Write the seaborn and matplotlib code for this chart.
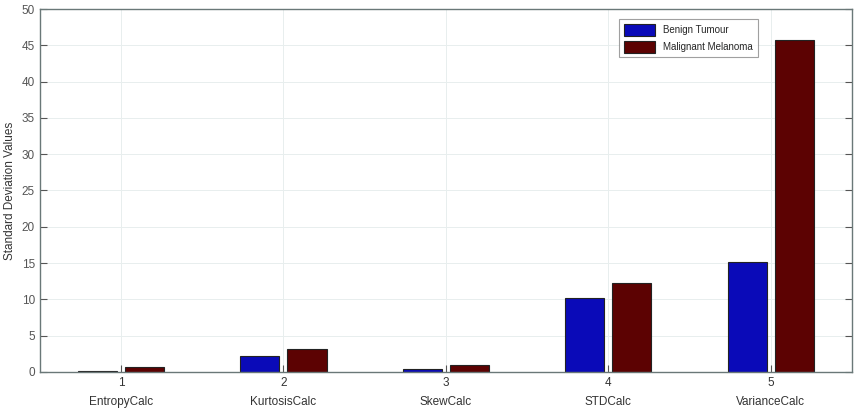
import pandas as pd
import seaborn as sns
import matplotlib.pyplot as plt

# Feature names and their index labels on the x axis
features = ["EntropyCalc", "KurtosisCalc", "SkewCalc", "STDCalc", "VarianceCalc"]
tick_labels = ["1\nEntropyCalc", "2\nKurtosisCalc", "3\nSkewCalc", "4\nSTDCalc", "5\nVarianceCalc"]

# Standard deviation values
benign = [0.1, 2.2, 0.4, 10.2, 15.1]
malignant = [0.6, 3.1, 0.9, 12.2, 45.7]

df = pd.DataFrame({
    "feature": features * 2,
    "value": benign + malignant,
    "group": ["Benign Tumour"] * 5 + ["Malignant Melanoma"] * 5,
})

sns.set_style("white")
plt.rcParams["font.family"] = ["Liberation Sans", "DejaVu Sans"]

fig = plt.figure(figsize=(8.65, 4.15), dpi=100)
ax = fig.add_axes([0.046, 0.104, 0.939, 0.874])

palette = {"Benign Tumour": "#0a0ab8", "Malignant Melanoma": "#5c0202"}
sns.barplot(data=df, x="feature", y="value", hue="group", palette=palette,
            width=0.58, gap=0.17, edgecolor="#222222", linewidth=0.8,
            saturation=1, ax=ax)

ax.set_xlim(-0.5, 4.5)
ax.set_ylim(0, 50)
ax.set_yticks(range(0, 51, 5))
ax.set_xticks(range(5))
ax.set_xticklabels(tick_labels, fontsize=8.5, color="#333333", linespacing=1.8)
ax.tick_params(axis="y", labelsize=8.5, labelcolor="#555555")
ax.tick_params(direction="in", length=5, width=0.8, color="#555555",
               left=True, bottom=True, right=True, top=False)
ax.set_xlabel("")
ax.set_ylabel("Standard Deviation Values", fontsize=8.5, color="#333333")
ax.grid(True, color="#e8eeee", linestyle="-", linewidth=0.7)
ax.set_axisbelow(True)
for s in ax.spines.values():
    s.set_color("#6a7878")
    s.set_linewidth(1.0)

leg = ax.legend(loc="upper right", bbox_to_anchor=(0.89, 0.985), fontsize=7,
                frameon=True, fancybox=False, edgecolor="#888888",
                handlelength=3.2, handleheight=1.4, borderpad=0.5, labelspacing=0.6)
leg.get_frame().set_linewidth(0.8)

fig.savefig("out.png", dpi=100)
